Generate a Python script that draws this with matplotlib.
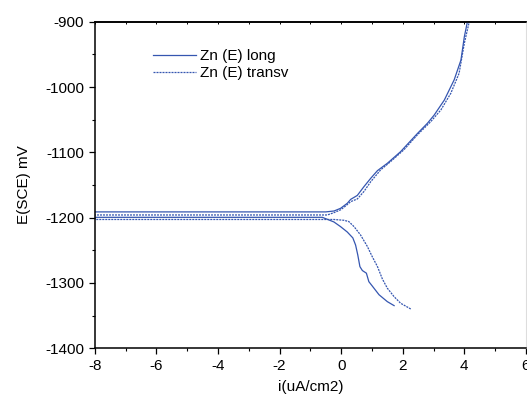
import numpy as np
import matplotlib.pyplot as plt
from matplotlib.ticker import MultipleLocator

plt.rcParams['font.family'] = ['Liberation Sans', 'DejaVu Sans']
plt.rcParams['axes.unicode_minus'] = False

# log current density (uA/cm2) vs potential (mV)
# "long" sample: cathodic branch -> near Ecorr (log i off-scale) -> anodic branch
long_logi = [1.72, 1.50, 1.23, 1.01, 0.90, 0.82, 0.69, 0.61, 0.54, 0.47, 0.38, 0.20,
             -0.017, -0.234, -0.61, -9.0, -9.0, -0.5, -0.23, -0.017, 0.20, 0.31,
             0.525, 0.74, 0.96, 1.18, 1.50, 1.93, 2.48, 2.80, 3.02, 3.35, 3.67,
             3.89, 4.00, 4.10]
long_E = [-1334.7, -1328.6, -1318, -1304.6, -1298, -1285, -1281, -1275, -1257,
          -1242, -1231, -1222, -1213.8, -1206.6, -1199.5, -1199.5, -1191.2,
          -1191.2, -1189.8, -1185.7, -1178, -1172, -1166, -1152.6, -1139.8,
          -1128, -1116.8, -1099, -1071, -1055.6, -1043, -1020, -989, -958.7,
          -923, -900]

transv_logi = [2.26, 1.93, 1.72, 1.50, 1.34, 1.18, 1.01, 0.85, 0.63, 0.42, 0.25,
               0.09, -0.234, -9.0, -9.0, -0.45, -0.23, -0.017, 0.15, 0.31, 0.525,
               0.74, 0.96, 1.28, 1.61, 2.04, 2.48, 2.91, 3.24, 3.56, 3.83, 4.00,
               4.16]
transv_E = [-1339.8, -1331, -1321, -1308, -1294, -1275, -1259.7, -1244, -1226.5,
            -1213.8, -1206, -1204, -1202.8, -1202.8, -1195.9, -1195.9, -1192.3,
            -1188, -1182, -1175.5, -1171.4, -1160, -1145, -1127, -1114, -1096,
            -1073, -1053, -1035, -1009.7, -979, -933, -900]

blue = '#3556b0'

fig = plt.figure(figsize=(5.27, 3.98), dpi=100)
ax = fig.add_axes([0.1797, 0.1249, 0.8183, 0.8206])

ax.plot(long_logi, long_E, color=blue, lw=0.9, label='Zn (E) long')
ax.plot(transv_logi, transv_E, color=blue, lw=0.9, dashes=(1.6, 0.8),
        label='Zn (E) transv')

ax.set_xlim(-8, 6)
ax.set_ylim(-1400, -900)
ax.xaxis.set_major_locator(MultipleLocator(2))
ax.xaxis.set_minor_locator(MultipleLocator(1))
ax.yaxis.set_major_locator(MultipleLocator(100))
ax.yaxis.set_minor_locator(MultipleLocator(50))
ax.tick_params(which='major', direction='out', length=4.5, width=0.9,
               labelsize=11, pad=3)
ax.tick_params(which='minor', direction='out', length=2.5, width=0.8)

top = ax.secondary_xaxis('top')
top.set_xticks(np.arange(-8, 7, 1))
top.tick_params(direction='in', length=1.5, width=0.7, labeltop=False)
top.spines['top'].set_linewidth(1.2)

for s in ['left', 'bottom', 'top']:
    ax.spines[s].set_linewidth(1.1)
ax.spines['right'].set_color('#dddddd')

ax.set_xlabel('i(uA/cm2)', fontsize=11, labelpad=5)
ax.set_ylabel('E(SCE) mV', fontsize=11, labelpad=10)

ax.legend(loc='upper left', bbox_to_anchor=(0.118, 0.94), frameon=False,
          fontsize=11, handlelength=2.8, handletextpad=0.25, labelspacing=0.2,
          borderpad=0)

fig.savefig('out.png', dpi=100)
